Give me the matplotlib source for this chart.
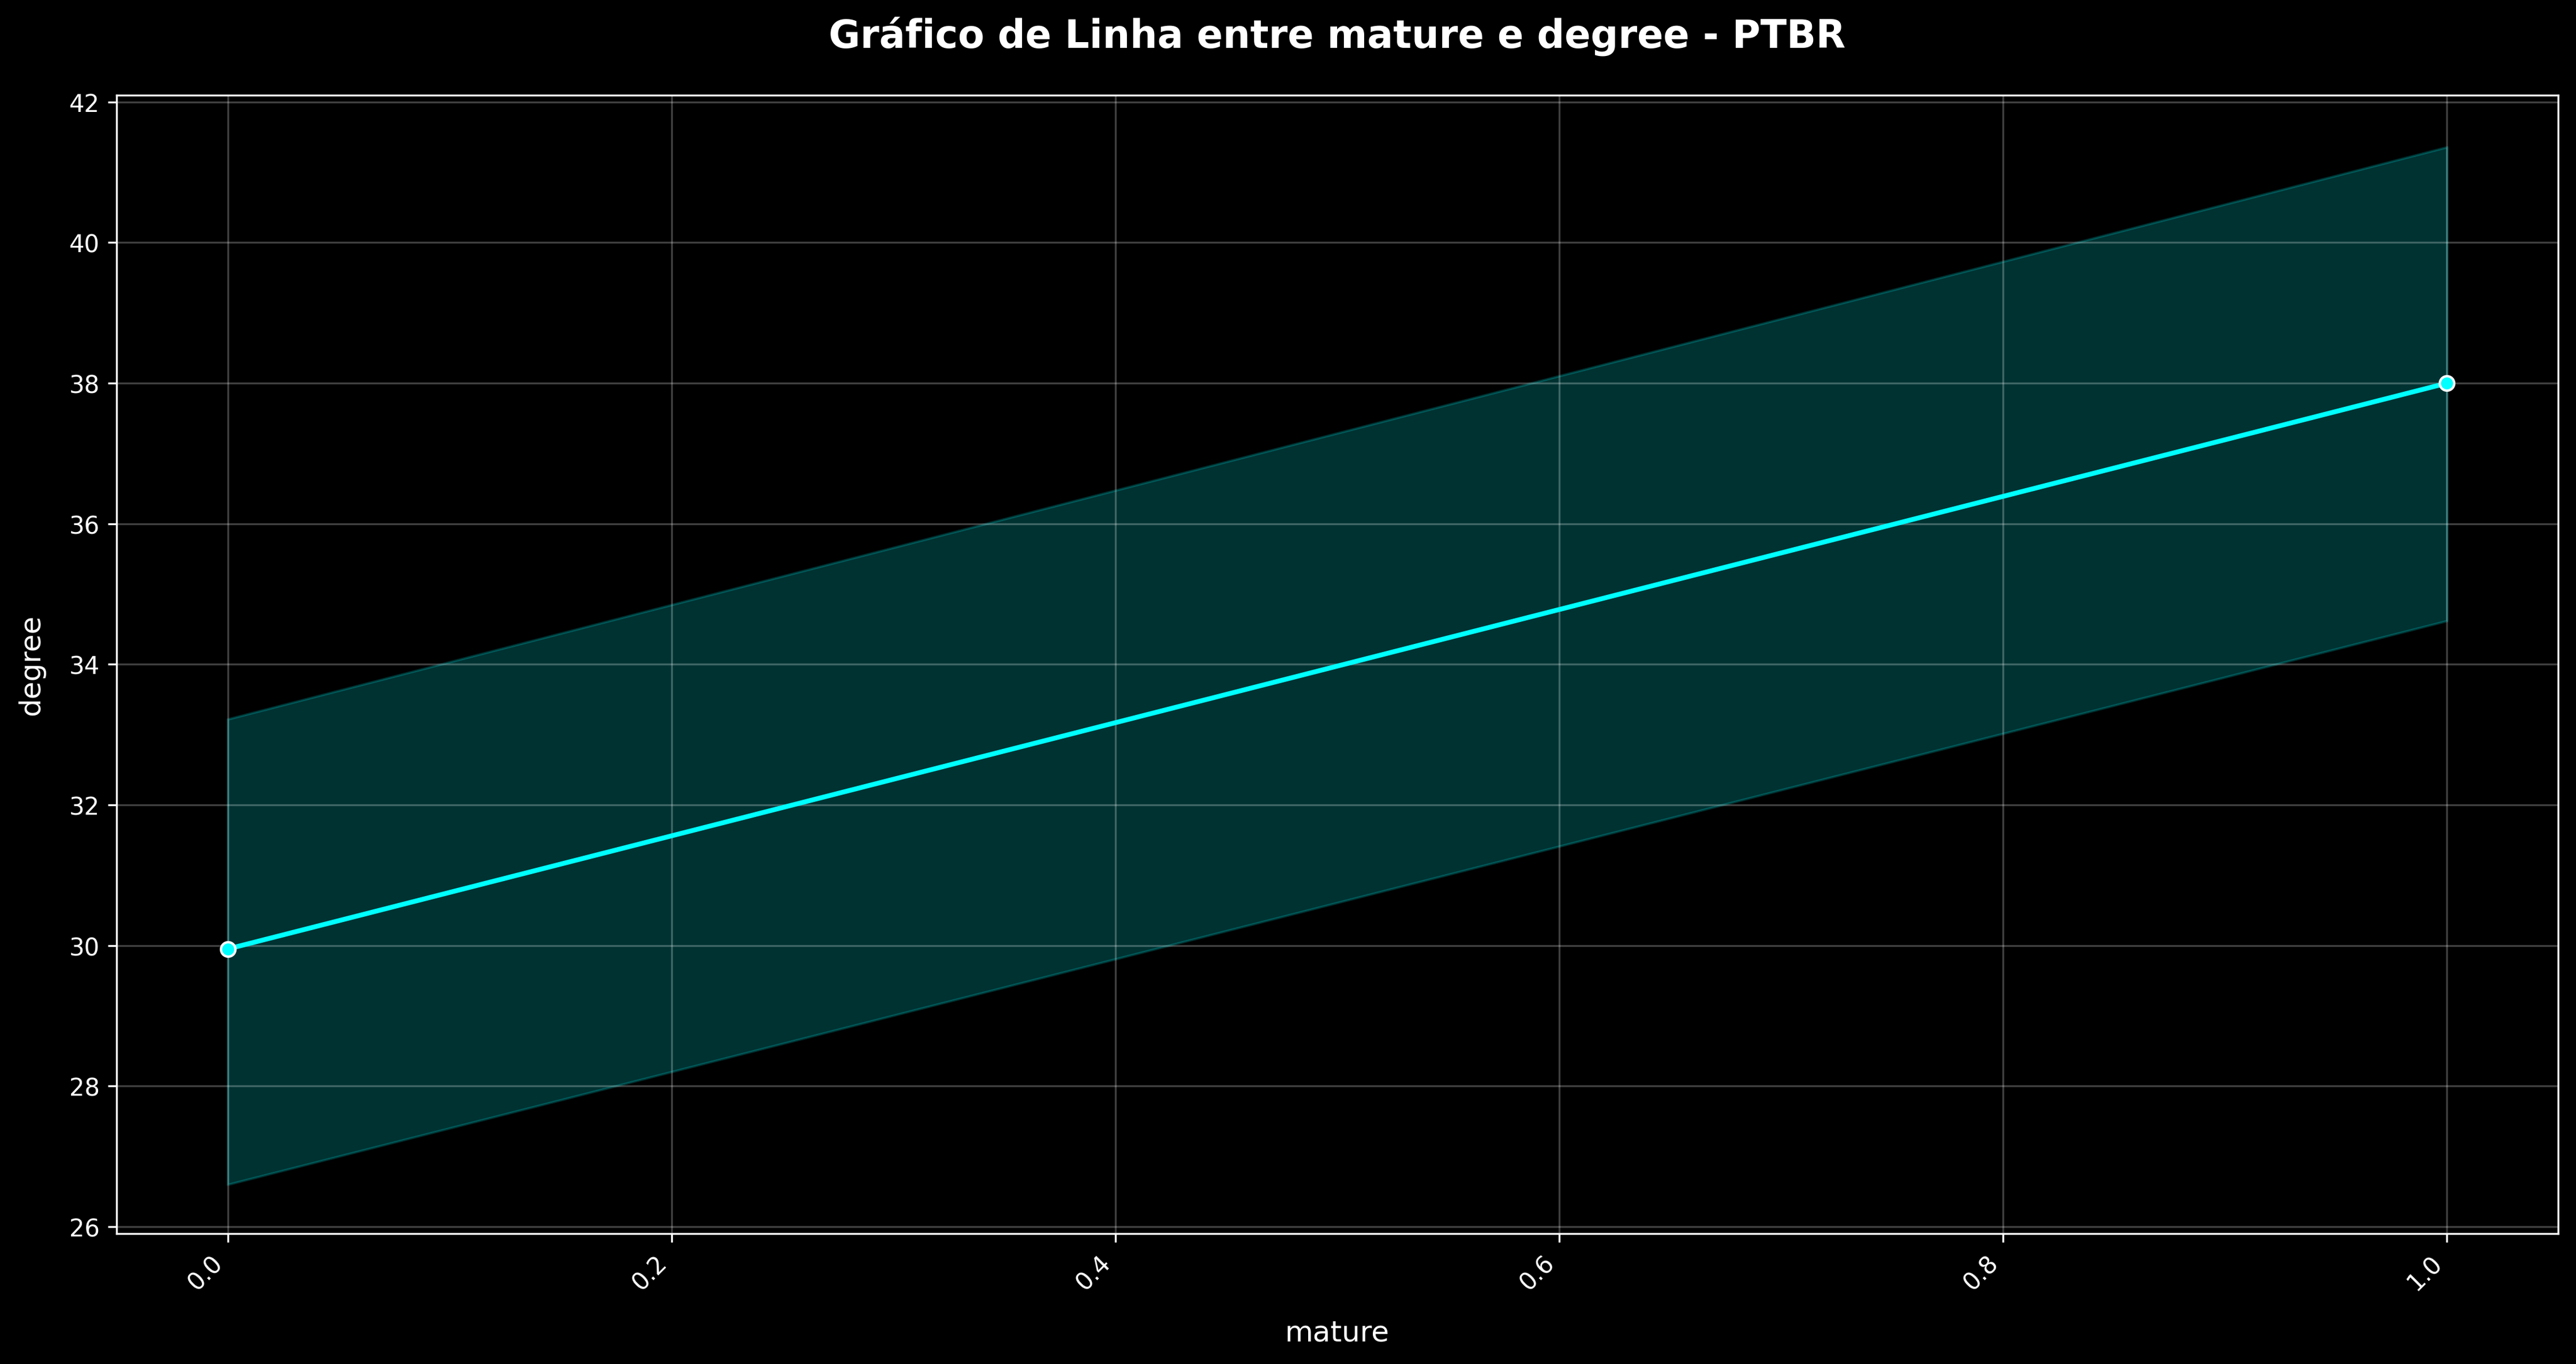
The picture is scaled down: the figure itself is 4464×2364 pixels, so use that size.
import matplotlib
matplotlib.use("Agg")
import matplotlib.pyplot as plt
import numpy as np

plt.style.use("dark_background")

mature = [0.0, 1.0]
degree_mean = [29.95, 38.0]
ci_low = [26.6, 34.62]
ci_high = [33.22, 41.36]
x_ticks = [0.0, 0.2, 0.4, 0.6, 0.8, 1.0]
y_ticks = [26, 28, 30, 32, 34, 36, 38, 40, 42]

fig = plt.figure(figsize=(14.88, 7.883), dpi=300)
ax = fig.add_axes([0.0453, 0.0955, 0.9477, 0.8345])
ax.set_facecolor("black")

ax.fill_between(mature, ci_low, ci_high, color="cyan", alpha=0.2, linewidth=1)
ax.plot(mature, degree_mean, color="cyan", linewidth=2, marker="o",
        markersize=6, markeredgecolor="white", markeredgewidth=1, zorder=3)

ax.set_xlim(-0.05, 1.05)
ax.set_ylim(25.9, 42.1)
ax.set_xticks(x_ticks)
ax.set_xticklabels([f"{v:.1f}" for v in x_ticks], rotation=45, ha="right",
                   rotation_mode="default")
ax.set_yticks(y_ticks)
ax.tick_params(labelsize=10, colors="white")
ax.grid(True, color="white", alpha=0.25, linewidth=0.8)

ax.set_xlabel("mature", fontsize=12, labelpad=10)
ax.set_ylabel("degree", fontsize=12, labelpad=10)
ax.set_title("Gráfico de Linha entre mature e degree - PTBR", fontsize=16,
             fontweight="bold", pad=20)

for s in ax.spines.values():
    s.set_color("white")

fig.savefig("out.png", dpi=300, facecolor="black")
